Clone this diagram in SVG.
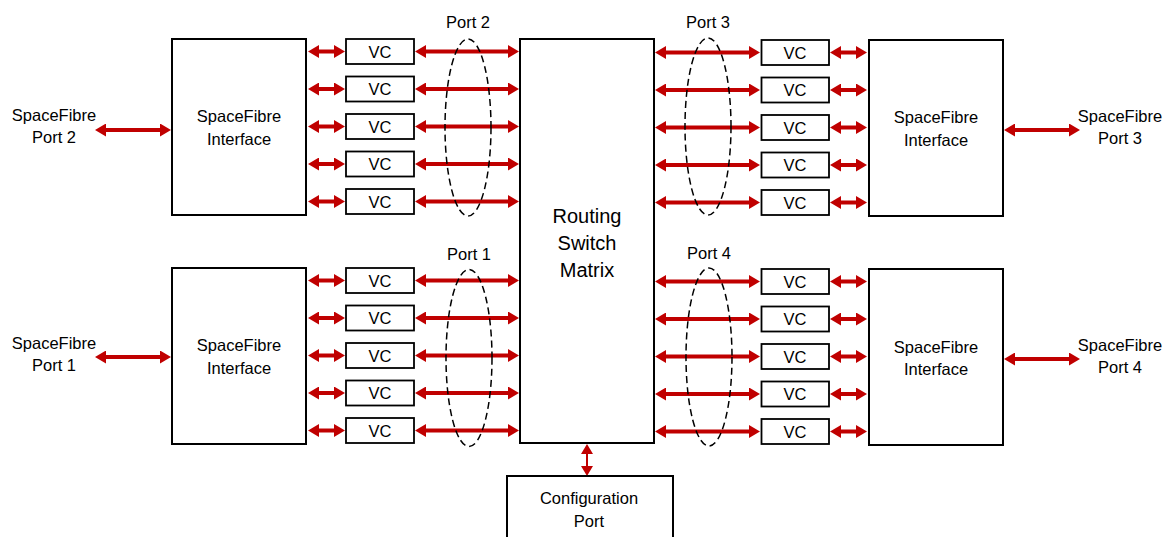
<svg xmlns="http://www.w3.org/2000/svg" width="1166" height="537" viewBox="0 0 1166 537">
<style>
.box{fill:#fff;stroke:#000;stroke-width:2}
.vc{fill:#fff;stroke:#000;stroke-width:1.8}
.t{font-family:"Liberation Sans",Arial,sans-serif;font-size:16.5px;fill:#000;text-anchor:middle}
.big{font-size:20px}
.arr{stroke:#C00000;stroke-width:4;fill:none;marker-start:url(#ah);marker-end:url(#ah)}
.thin{stroke:#C00000;stroke-width:2;fill:none;marker-start:url(#ah2);marker-end:url(#ah2)}
.grp{fill:none;stroke:#000;stroke-width:1.5;stroke-dasharray:7 4}
</style>
<defs>
<marker id="ah" markerUnits="userSpaceOnUse" markerWidth="11" markerHeight="13" refX="4" refY="6.5" orient="auto-start-reverse" viewBox="0 0 11 13"><path d="M0,0 L11,6.5 L0,13 z" fill="#C00000"/></marker>
<marker id="ah2" markerUnits="userSpaceOnUse" markerWidth="10" markerHeight="12" refX="3" refY="6" orient="auto-start-reverse" viewBox="0 0 10 12"><path d="M0,0 L10,6 L0,12 z" fill="#C00000"/></marker>
</defs>
<rect width="1166" height="537" fill="#fff"/>

<g id="connectors">
<!-- external -->
<line class="arr" x1="102" y1="130" x2="164" y2="130"/>
<line class="arr" x1="102" y1="357" x2="164" y2="357"/>
<line class="arr" x1="1011" y1="130" x2="1073" y2="130"/>
<line class="arr" x1="1011" y1="359" x2="1073" y2="359"/>
<!-- top-left small -->
<line class="arr" x1="315" y1="51.5" x2="338" y2="51.5"/>
<line class="arr" x1="315" y1="89" x2="338" y2="89"/>
<line class="arr" x1="315" y1="126.5" x2="338" y2="126.5"/>
<line class="arr" x1="315" y1="164" x2="338" y2="164"/>
<line class="arr" x1="315" y1="201.5" x2="338" y2="201.5"/>
<!-- top-left long -->
<line class="arr" x1="422" y1="51.5" x2="512" y2="51.5"/>
<line class="arr" x1="422" y1="89" x2="512" y2="89"/>
<line class="arr" x1="422" y1="126.5" x2="512" y2="126.5"/>
<line class="arr" x1="422" y1="164" x2="512" y2="164"/>
<line class="arr" x1="422" y1="201.5" x2="512" y2="201.5"/>
<!-- bottom-left small -->
<line class="arr" x1="315" y1="280.5" x2="338" y2="280.5"/>
<line class="arr" x1="315" y1="318" x2="338" y2="318"/>
<line class="arr" x1="315" y1="355.5" x2="338" y2="355.5"/>
<line class="arr" x1="315" y1="393" x2="338" y2="393"/>
<line class="arr" x1="315" y1="430.5" x2="338" y2="430.5"/>
<!-- bottom-left long -->
<line class="arr" x1="422" y1="280.5" x2="512" y2="280.5"/>
<line class="arr" x1="422" y1="318" x2="512" y2="318"/>
<line class="arr" x1="422" y1="355.5" x2="512" y2="355.5"/>
<line class="arr" x1="422" y1="393" x2="512" y2="393"/>
<line class="arr" x1="422" y1="430.5" x2="512" y2="430.5"/>
<!-- top-right long -->
<line class="arr" x1="662" y1="52.5" x2="753" y2="52.5"/>
<line class="arr" x1="662" y1="90" x2="753" y2="90"/>
<line class="arr" x1="662" y1="127.5" x2="753" y2="127.5"/>
<line class="arr" x1="662" y1="165" x2="753" y2="165"/>
<line class="arr" x1="662" y1="202.5" x2="753" y2="202.5"/>
<!-- top-right small -->
<line class="arr" x1="837" y1="52.5" x2="860" y2="52.5"/>
<line class="arr" x1="837" y1="90" x2="860" y2="90"/>
<line class="arr" x1="837" y1="127.5" x2="860" y2="127.5"/>
<line class="arr" x1="837" y1="165" x2="860" y2="165"/>
<line class="arr" x1="837" y1="202.5" x2="860" y2="202.5"/>
<!-- bottom-right long -->
<line class="arr" x1="662" y1="281.5" x2="753" y2="281.5"/>
<line class="arr" x1="662" y1="319" x2="753" y2="319"/>
<line class="arr" x1="662" y1="356.5" x2="753" y2="356.5"/>
<line class="arr" x1="662" y1="394" x2="753" y2="394"/>
<line class="arr" x1="662" y1="431.5" x2="753" y2="431.5"/>
<!-- bottom-right small -->
<line class="arr" x1="837" y1="281.5" x2="860" y2="281.5"/>
<line class="arr" x1="837" y1="319" x2="860" y2="319"/>
<line class="arr" x1="837" y1="356.5" x2="860" y2="356.5"/>
<line class="arr" x1="837" y1="394" x2="860" y2="394"/>
<line class="arr" x1="837" y1="431.5" x2="860" y2="431.5"/>
<!-- config -->
<line class="thin" x1="587" y1="451" x2="587" y2="469"/>
</g>

<g id="port-groups">
<ellipse class="grp" cx="468" cy="127.5" rx="23" ry="88.5"/>
<ellipse class="grp" cx="708" cy="126.5" rx="23" ry="88.5"/>
<ellipse class="grp" cx="469" cy="358" rx="23" ry="88.5"/>
<ellipse class="grp" cx="709" cy="357" rx="23" ry="89"/>
<text class="t" x="468" y="28">Port 2</text>
<text class="t" x="708" y="28">Port 3</text>
<text class="t" x="469" y="260">Port 1</text>
<text class="t" x="709" y="259">Port 4</text>
</g>

<g id="ext-port2"><text class="t" x="54" y="121">SpaceFibre</text><text class="t" x="54" y="143">Port 2</text></g>
<g id="ext-port1"><text class="t" x="54" y="349">SpaceFibre</text><text class="t" x="54" y="371">Port 1</text></g>
<g id="ext-port3"><text class="t" x="1120" y="122">SpaceFibre</text><text class="t" x="1120" y="144">Port 3</text></g>
<g id="ext-port4"><text class="t" x="1120" y="351">SpaceFibre</text><text class="t" x="1120" y="373">Port 4</text></g>

<g id="if-port2"><rect class="box" x="172" y="39" width="134" height="176"/><text class="t" x="239" y="122">SpaceFibre</text><text class="t" x="239" y="145">Interface</text></g>
<g id="if-port1"><rect class="box" x="172" y="268" width="134" height="176"/><text class="t" x="239" y="351">SpaceFibre</text><text class="t" x="239" y="374">Interface</text></g>
<g id="if-port3"><rect class="box" x="869" y="40" width="134" height="176"/><text class="t" x="936" y="123">SpaceFibre</text><text class="t" x="936" y="146">Interface</text></g>
<g id="if-port4"><rect class="box" x="869" y="269" width="134" height="176"/><text class="t" x="936" y="353">SpaceFibre</text><text class="t" x="936" y="375">Interface</text></g>

<g id="vc-p2">
<rect class="vc" x="346" y="39" width="68" height="25"/><text class="t" x="380" y="57.5">VC</text>
<rect class="vc" x="346" y="76.5" width="68" height="25"/><text class="t" x="380" y="95">VC</text>
<rect class="vc" x="346" y="114" width="68" height="25"/><text class="t" x="380" y="132.5">VC</text>
<rect class="vc" x="346" y="151.5" width="68" height="25"/><text class="t" x="380" y="170">VC</text>
<rect class="vc" x="346" y="189" width="68" height="25"/><text class="t" x="380" y="207.5">VC</text>
</g>
<g id="vc-p1">
<rect class="vc" x="346" y="268" width="68" height="25"/><text class="t" x="380" y="286.5">VC</text>
<rect class="vc" x="346" y="305.5" width="68" height="25"/><text class="t" x="380" y="324">VC</text>
<rect class="vc" x="346" y="343" width="68" height="25"/><text class="t" x="380" y="361.5">VC</text>
<rect class="vc" x="346" y="380.5" width="68" height="25"/><text class="t" x="380" y="399">VC</text>
<rect class="vc" x="346" y="418" width="68" height="25"/><text class="t" x="380" y="436.5">VC</text>
</g>
<g id="vc-p3">
<rect class="vc" x="761.5" y="40" width="67.5" height="25"/><text class="t" x="795" y="58.5">VC</text>
<rect class="vc" x="761.5" y="77.5" width="67.5" height="25"/><text class="t" x="795" y="96">VC</text>
<rect class="vc" x="761.5" y="115" width="67.5" height="25"/><text class="t" x="795" y="133.5">VC</text>
<rect class="vc" x="761.5" y="152.5" width="67.5" height="25"/><text class="t" x="795" y="171">VC</text>
<rect class="vc" x="761.5" y="190" width="67.5" height="25"/><text class="t" x="795" y="208.5">VC</text>
</g>
<g id="vc-p4">
<rect class="vc" x="761.5" y="269" width="67.5" height="25"/><text class="t" x="795" y="287.5">VC</text>
<rect class="vc" x="761.5" y="306.5" width="67.5" height="25"/><text class="t" x="795" y="325">VC</text>
<rect class="vc" x="761.5" y="344" width="67.5" height="25"/><text class="t" x="795" y="362.5">VC</text>
<rect class="vc" x="761.5" y="381.5" width="67.5" height="25"/><text class="t" x="795" y="400">VC</text>
<rect class="vc" x="761.5" y="419" width="67.5" height="25"/><text class="t" x="795" y="437.5">VC</text>
</g>

<g id="routing-matrix"><rect class="box" x="520" y="39" width="134" height="404"/>
<text class="t big" x="587" y="223">Routing</text><text class="t big" x="587" y="250">Switch</text><text class="t big" x="587" y="277">Matrix</text></g>

<g id="config-port"><rect class="box" x="507" y="476" width="166" height="80"/>
<text class="t" x="589" y="504">Configuration</text><text class="t" x="589" y="527">Port</text></g>
</svg>
